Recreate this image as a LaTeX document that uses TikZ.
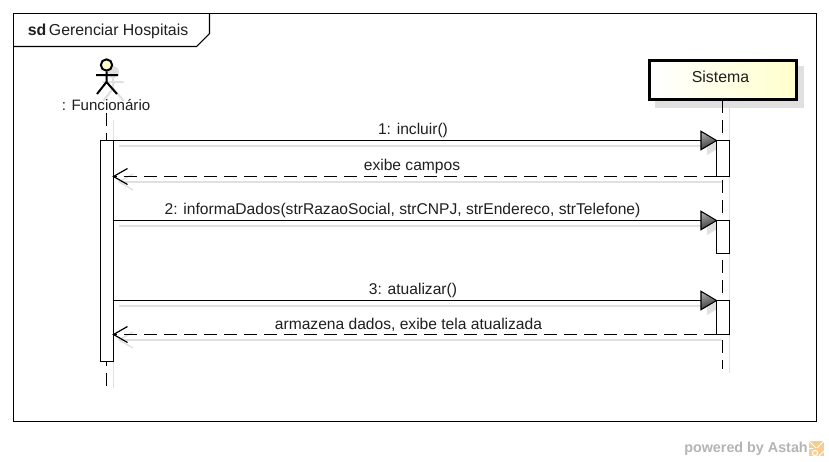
\documentclass[tikz,border=0pt]{standalone}
\usepackage{fontspec}
\setmainfont{Liberation Sans}
\definecolor{shadowc}{RGB}{224,224,224}
\definecolor{wmc}{RGB}{180,180,180}
\definecolor{boxy}{RGB}{255,255,205}
\definecolor{iconc}{RGB}{250,205,140}
\usetikzlibrary{calc}
\tikzset{
  x=0.75pt,y=-0.75pt,
  frameline/.style={draw=black,line width=0.8pt},
  shade line/.style={draw=shadowc,line width=0.9pt},
  msg/.style={draw=black,line width=0.9pt},
  ret/.style={draw=black,line width=0.9pt,dash pattern=on 9.75pt off 5.25pt},
  lifeline/.style={draw=black,line width=0.9pt,dash pattern=on 9.75pt off 5.25pt},
  activation/.style={draw=black,fill=white,line width=0.8pt,minimum width=9.75pt,inner sep=0pt,outer sep=0pt},
  txt/.style={font=\fontsize{11.7pt}{13pt}\selectfont,inner sep=0pt,text=black!88},
}
\newcommand{\solidheadtop}[1]{%
  \shadedraw[draw=black,line width=0.8pt,top color=black!35,bottom color=black!80,shading angle=20] (#1) -- ++(-15.5,9.2) -- ++(0,-18.4) -- cycle;
}
\begin{document}
\begin{tikzpicture}
\useasboundingbox (0,0) rectangle (829,461);
\fill[white] (0,0) rectangle (829,461);

% frame
\draw[frameline] (13.5,13.5) rectangle (816.5,421.5);
\draw[frameline] (13.5,46.5) -- (196.5,46.5) -- (209.5,33.5) -- (209.5,13.5);
\node[txt,anchor=west,font=\fontsize{11.9pt}{13pt}\selectfont] (title) at (27.5,31.5) {\textbf{sd}\hspace{2pt}Gerenciar Hospitais};

% anchors for lifelines
\coordinate (fTop) at (106.5,113);
\coordinate (fBot) at (106.5,387);
\coordinate (fShTop) at (113.5,120);
\coordinate (fShBot) at (113.5,388);
\coordinate (sBot) at (722.5,369);
\coordinate (sShTop) at (729.5,108);
\coordinate (sShBot) at (729.5,373);

% shadows of lifelines
\draw[shade line] (fShTop) -- (fShBot);
\draw[shade line] (sShTop) -- (sShBot);

% actor shadow
\begin{scope}[shift={(6.5,6.5)}]
  \fill[shadowc] (106.5,65.5) circle (6);
  \draw[shadowc,line width=1.5pt] (106.5,71) -- (106.5,82) (96,75.5) -- (117,75.5) (106.5,82) -- (97,94) (106.5,82) -- (117,94);
\end{scope}
% actor
\node[circle,draw=black,line width=1.5pt,minimum size=8.5pt,inner sep=0pt,fill=boxy] (head) at (106.5,65) {};
\coordinate (hip) at (106.5,82);
\coordinate (armL) at (96,75);
\coordinate (armR) at (118,75);
\coordinate (legL) at (97,94);
\coordinate (legR) at (117,94);
\draw[black,line width=1.5pt] (head.south) -- (hip) (armL) -- (armR) (hip) -- (legL) (hip) -- (legR);
\node[txt,font=\fontsize{11.3pt}{13pt}\selectfont] (fLabel) at (106,105) {: Funcionário};

% Sistema
\fill[shadowc] (655,66) rectangle (804,108);
\node[draw=black,line width=2pt,left color=white,right color=boxy,minimum width=110pt,minimum height=29pt,inner sep=0pt,outer sep=0pt,anchor=north west] (sis) at (649.5,60.5) {};
\node[txt,font=\fontsize{11.9pt}{13pt}\selectfont] (sisLabel) at (720.5,76.5) {Sistema};

% lifelines
\draw[lifeline] (fTop) -- (fBot);
\draw[lifeline] (722.5,100) -- (sBot);

% message shadows
\coordinate (sh1a) at (119,146);\coordinate (sh1b) at (722,146);
\coordinate (sh2a) at (119,182);\coordinate (sh2b) at (722,182);
\coordinate (sh3a) at (119,226);\coordinate (sh3b) at (722,226);
\coordinate (sh4a) at (119,306);\coordinate (sh4b) at (722,306);
\coordinate (sh5a) at (119,340);\coordinate (sh5b) at (722,340);
\draw[shade line] (sh1a) -- (sh1b);
\draw[shade line] (sh2a) -- (sh2b);
\draw[shade line] (sh3a) -- (sh3b);
\draw[shade line] (sh4a) -- (sh4b);
\draw[shade line] (sh5a) -- (sh5b);
\foreach \c in {sh1b,sh3b,sh4b}{\fill[shadowc] (\c) -- ++(-15,9) -- ++(0,-18) -- cycle;}
\foreach \c in {sh2a,sh5a}{\draw[shadowc,line width=1pt] ($(\c)+(14,-8)$) -- (\c) -- ($(\c)+(14,8)$);}

% activations
\node[activation,anchor=north west,minimum height=165.75pt] (A) at (100.5,140.5) {};
\node[activation,anchor=north west,minimum height=27pt] (S1) at (716.5,140.5) {};
\node[activation,anchor=north west,minimum height=24.75pt] (S2) at (716.5,220.5) {};
\node[activation,anchor=north west,minimum height=25.5pt] (S3) at (716.5,300.5) {};

% messages
\draw[msg] (A.east |- S1.north) -- (S1.north west);
\draw[msg] (A.east |- S2.north) -- (S2.north west);
\draw[msg] (A.east |- S3.north) -- (S3.north west);
\solidheadtop{S1.north west}
\solidheadtop{S2.north west}
\solidheadtop{S3.north west}
\draw[ret] (S1.south west) -- (A.east |- S1.south);
\draw[ret] (S3.south west) -- (A.east |- S3.south);
\draw[black,line width=0.9pt] ($(A.east |- S1.south)+(14,-8)$) -- (A.east |- S1.south) -- ($(A.east |- S1.south)+(14,8)$);
\draw[black,line width=0.9pt] ($(A.east |- S3.south)+(14,-8)$) -- (A.east |- S3.south) -- ($(A.east |- S3.south)+(14,8)$);

% labels
\node[txt] (m1) at (413,130) {1: incluir()};
\node[txt] (m2) at (412,166) {exibe campos};
\node[txt] (m3) at (402.5,210) {2: informaDados(strRazaoSocial, strCNPJ, strEndereco, strTelefone)};
\node[txt] (m4) at (413,290) {3: atualizar()};
\node[txt] (m5) at (408.5,325) {armazena dados, exibe tela atualizada};

% watermark
\node[anchor=east,inner sep=0pt,text=wmc,font=\bfseries\fontsize{10.75pt}{12pt}\selectfont] (wm) at (808,448.5) {powered by Astah};
\fill[iconc] (809,441) rectangle (824,456);
\draw[white,line width=0.7pt] (809,441) -- (816,448) (824,441) -- (817,448) (809,448.5) -- (813,448.5) (824,451) -- (819,456);
\draw[white,line width=0.8pt] (815,453) circle (2.6);
\end{tikzpicture}
\end{document}
